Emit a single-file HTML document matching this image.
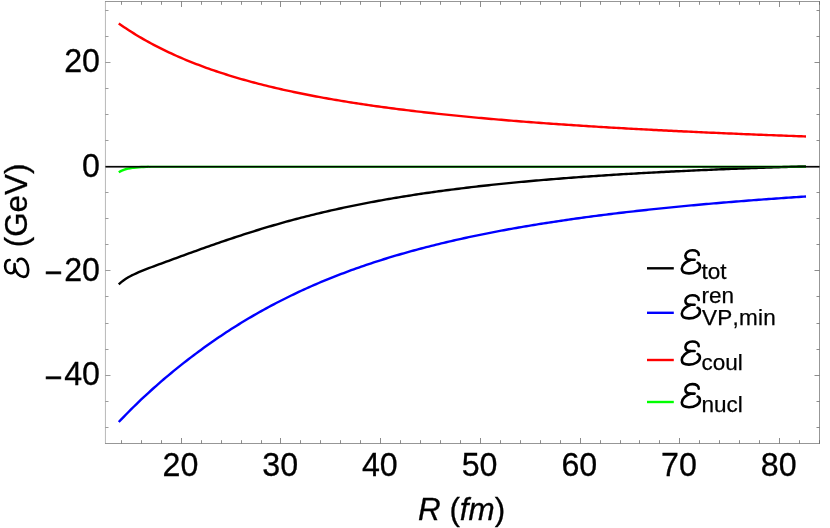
<!DOCTYPE html>
<html><head><meta charset="utf-8"><title>Energy vs R</title>
<style>html,body{margin:0;padding:0;background:#fff;overflow:hidden}svg{display:block;will-change:transform}text{font-family:"Liberation Sans",sans-serif;font-kerning:none}</style>
</head><body>
<svg width="830" height="528" viewBox="0 0 830 528">
<defs><g id="E" fill="none" stroke="#000" stroke-width="2.6" stroke-linecap="round" stroke-linejoin="round"><path d="M22.7 9.3 C22.9 6.5 20.3 4.7 16.4 4.7 C12.4 4.7 9.4 7.2 9.4 10.2 C9.4 12.8 11.4 14.2 14.3 14.2 L18.6 14.2"/><path d="M14.5 14.3 C10.5 15.5 5.8 19 5.8 23.2 C5.8 26.2 8.8 27.8 13 27.8 C19 27.8 23.9 24.5 23.9 20.8 C23.9 18.8 23 17.6 21.6 17.2"/></g></defs>
<rect width="830" height="528" fill="#fff"/>
<path d="M118.75 284.40 L121.25 282.13 L123.75 280.21 L126.25 278.53 L128.75 277.04 L131.25 275.70 L133.75 274.47 L136.25 273.31 L138.75 272.22 L141.25 271.17 L143.75 270.16 L146.25 269.17 L148.75 268.20 L151.25 267.25 L153.75 266.30 L156.25 265.37 L158.75 264.44 L161.25 263.52 L163.75 262.60 L166.25 261.68 L168.75 260.76 L171.25 259.85 L173.75 258.93 L176.25 258.02 L178.75 257.11 L181.25 256.20 L183.75 255.29 L186.25 254.38 L188.75 253.48 L191.25 252.58 L193.75 251.67 L196.25 250.78 L198.75 249.88 L201.25 248.99 L203.75 248.10 L206.25 247.21 L208.75 246.32 L211.25 245.44 L213.75 244.57 L216.25 243.70 L218.75 242.83 L221.25 241.97 L223.75 241.11 L226.25 240.26 L228.75 239.41 L231.25 238.57 L233.75 237.74 L236.25 236.91 L238.75 236.09 L241.25 235.27 L243.75 234.46 L246.25 233.65 L248.75 232.86 L251.25 232.07 L253.75 231.28 L256.25 230.50 L258.75 229.73 L261.25 228.97 L263.75 228.21 L266.25 227.46 L268.75 226.72 L271.25 225.98 L273.75 225.25 L276.25 224.53 L278.75 223.81 L281.25 223.11 L283.75 222.41 L286.25 221.71 L288.75 221.03 L291.25 220.35 L293.75 219.68 L296.25 219.01 L298.75 218.35 L301.25 217.70 L303.75 217.06 L306.25 216.42 L308.75 215.79 L311.25 215.17 L313.75 214.55 L316.25 213.94 L318.75 213.34 L321.25 212.75 L323.75 212.16 L326.25 211.57 L328.75 211.00 L331.25 210.43 L333.75 209.87 L336.25 209.31 L338.75 208.76 L341.25 208.22 L343.75 207.68 L346.25 207.15 L348.75 206.62 L351.25 206.10 L353.75 205.59 L356.25 205.08 L358.75 204.58 L361.25 204.09 L363.75 203.60 L366.25 203.11 L368.75 202.64 L371.25 202.16 L373.75 201.70 L376.25 201.24 L378.75 200.78 L381.25 200.33 L383.75 199.88 L386.25 199.44 L388.75 199.01 L391.25 198.58 L393.75 198.15 L396.25 197.73 L398.75 197.32 L401.25 196.91 L403.75 196.50 L406.25 196.10 L408.75 195.71 L411.25 195.32 L413.75 194.93 L416.25 194.55 L418.75 194.17 L421.25 193.80 L423.75 193.43 L426.25 193.06 L428.75 192.70 L431.25 192.35 L433.75 192.00 L436.25 191.65 L438.75 191.30 L441.25 190.97 L443.75 190.63 L446.25 190.30 L448.75 189.97 L451.25 189.65 L453.75 189.32 L456.25 189.01 L458.75 188.69 L461.25 188.38 L463.75 188.08 L466.25 187.78 L468.75 187.48 L471.25 187.18 L473.75 186.89 L476.25 186.60 L478.75 186.31 L481.25 186.03 L483.75 185.75 L486.25 185.48 L488.75 185.20 L491.25 184.93 L493.75 184.67 L496.25 184.40 L498.75 184.14 L501.25 183.89 L503.75 183.63 L506.25 183.38 L508.75 183.13 L511.25 182.88 L513.75 182.64 L516.25 182.40 L518.75 182.16 L521.25 181.92 L523.75 181.69 L526.25 181.46 L528.75 181.23 L531.25 181.01 L533.75 180.78 L536.25 180.56 L538.75 180.35 L541.25 180.13 L543.75 179.92 L546.25 179.71 L548.75 179.50 L551.25 179.29 L553.75 179.09 L556.25 178.88 L558.75 178.68 L561.25 178.49 L563.75 178.29 L566.25 178.10 L568.75 177.91 L571.25 177.72 L573.75 177.53 L576.25 177.34 L578.75 177.16 L581.25 176.98 L583.75 176.80 L586.25 176.62 L588.75 176.45 L591.25 176.27 L593.75 176.10 L596.25 175.93 L598.75 175.76 L601.25 175.60 L603.75 175.43 L606.25 175.27 L608.75 175.11 L611.25 174.95 L613.75 174.79 L616.25 174.63 L618.75 174.48 L621.25 174.32 L623.75 174.17 L626.25 174.02 L628.75 173.87 L631.25 173.73 L633.75 173.58 L636.25 173.44 L638.75 173.29 L641.25 173.15 L643.75 173.01 L646.25 172.87 L648.75 172.74 L651.25 172.60 L653.75 172.47 L656.25 172.34 L658.75 172.20 L661.25 172.07 L663.75 171.95 L666.25 171.82 L668.75 171.69 L671.25 171.57 L673.75 171.44 L676.25 171.32 L678.75 171.20 L681.25 171.08 L683.75 170.96 L686.25 170.84 L688.75 170.73 L691.25 170.61 L693.75 170.50 L696.25 170.38 L698.75 170.27 L701.25 170.16 L703.75 170.05 L706.25 169.94 L708.75 169.83 L711.25 169.73 L713.75 169.62 L716.25 169.52 L718.75 169.41 L721.25 169.31 L723.75 169.21 L726.25 169.11 L728.75 169.01 L731.25 168.91 L733.75 168.81 L736.25 168.71 L738.75 168.62 L741.25 168.52 L743.75 168.43 L746.25 168.33 L748.75 168.24 L751.25 168.15 L753.75 168.06 L756.25 167.97 L758.75 167.88 L761.25 167.79 L763.75 167.71 L766.25 167.62 L768.75 167.53 L771.25 167.45 L773.75 167.36 L776.25 167.28 L778.75 167.20 L781.25 167.12 L783.75 167.04 L786.25 166.96 L788.75 166.88 L791.25 166.80 L793.75 166.72 L796.25 166.64 L798.75 166.57 L801.25 166.49 L803.75 166.41 L806.00 166.35" fill="none" stroke="#000" stroke-width="2.4" stroke-linejoin="round"/>
<path d="M118.75 422.02 L121.25 419.42 L123.75 416.83 L126.25 414.26 L128.75 411.72 L131.25 409.22 L133.75 406.74 L136.25 404.29 L138.75 401.87 L141.25 399.49 L143.75 397.13 L146.25 394.81 L148.75 392.51 L151.25 390.24 L153.75 387.99 L156.25 385.78 L158.75 383.58 L161.25 381.41 L163.75 379.27 L166.25 377.15 L168.75 375.05 L171.25 372.97 L173.75 370.92 L176.25 368.88 L178.75 366.87 L181.25 364.88 L183.75 362.91 L186.25 360.95 L188.75 359.02 L191.25 357.11 L193.75 355.22 L196.25 353.35 L198.75 351.49 L201.25 349.66 L203.75 347.84 L206.25 346.05 L208.75 344.27 L211.25 342.51 L213.75 340.77 L216.25 339.05 L218.75 337.35 L221.25 335.66 L223.75 334.00 L226.25 332.35 L228.75 330.72 L231.25 329.11 L233.75 327.51 L236.25 325.94 L238.75 324.38 L241.25 322.84 L243.75 321.32 L246.25 319.81 L248.75 318.32 L251.25 316.85 L253.75 315.39 L256.25 313.96 L258.75 312.53 L261.25 311.13 L263.75 309.74 L266.25 308.37 L268.75 307.01 L271.25 305.67 L273.75 304.35 L276.25 303.04 L278.75 301.75 L281.25 300.47 L283.75 299.20 L286.25 297.96 L288.75 296.72 L291.25 295.50 L293.75 294.30 L296.25 293.11 L298.75 291.93 L301.25 290.77 L303.75 289.62 L306.25 288.49 L308.75 287.37 L311.25 286.26 L313.75 285.17 L316.25 284.09 L318.75 283.02 L321.25 281.96 L323.75 280.92 L326.25 279.89 L328.75 278.87 L331.25 277.86 L333.75 276.87 L336.25 275.89 L338.75 274.92 L341.25 273.96 L343.75 273.01 L346.25 272.07 L348.75 271.15 L351.25 270.23 L353.75 269.33 L356.25 268.43 L358.75 267.55 L361.25 266.68 L363.75 265.81 L366.25 264.96 L368.75 264.12 L371.25 263.29 L373.75 262.46 L376.25 261.65 L378.75 260.84 L381.25 260.05 L383.75 259.26 L386.25 258.49 L388.75 257.72 L391.25 256.96 L393.75 256.21 L396.25 255.47 L398.75 254.73 L401.25 254.01 L403.75 253.29 L406.25 252.58 L408.75 251.88 L411.25 251.19 L413.75 250.50 L416.25 249.82 L418.75 249.15 L421.25 248.49 L423.75 247.84 L426.25 247.19 L428.75 246.55 L431.25 245.91 L433.75 245.29 L436.25 244.67 L438.75 244.05 L441.25 243.45 L443.75 242.85 L446.25 242.25 L448.75 241.67 L451.25 241.09 L453.75 240.51 L456.25 239.94 L458.75 239.38 L461.25 238.82 L463.75 238.27 L466.25 237.73 L468.75 237.19 L471.25 236.66 L473.75 236.13 L476.25 235.61 L478.75 235.09 L481.25 234.58 L483.75 234.08 L486.25 233.58 L488.75 233.08 L491.25 232.59 L493.75 232.10 L496.25 231.62 L498.75 231.15 L501.25 230.68 L503.75 230.21 L506.25 229.75 L508.75 229.30 L511.25 228.85 L513.75 228.40 L516.25 227.96 L518.75 227.52 L521.25 227.08 L523.75 226.65 L526.25 226.23 L528.75 225.81 L531.25 225.39 L533.75 224.98 L536.25 224.57 L538.75 224.17 L541.25 223.77 L543.75 223.37 L546.25 222.98 L548.75 222.59 L551.25 222.20 L553.75 221.82 L556.25 221.44 L558.75 221.07 L561.25 220.70 L563.75 220.33 L566.25 219.97 L568.75 219.61 L571.25 219.25 L573.75 218.90 L576.25 218.55 L578.75 218.20 L581.25 217.85 L583.75 217.51 L586.25 217.18 L588.75 216.84 L591.25 216.51 L593.75 216.18 L596.25 215.86 L598.75 215.54 L601.25 215.22 L603.75 214.90 L606.25 214.59 L608.75 214.28 L611.25 213.97 L613.75 213.66 L616.25 213.36 L618.75 213.06 L621.25 212.77 L623.75 212.47 L626.25 212.18 L628.75 211.89 L631.25 211.60 L633.75 211.32 L636.25 211.04 L638.75 210.76 L641.25 210.48 L643.75 210.21 L646.25 209.94 L648.75 209.67 L651.25 209.40 L653.75 209.14 L656.25 208.87 L658.75 208.61 L661.25 208.36 L663.75 208.10 L666.25 207.85 L668.75 207.60 L671.25 207.35 L673.75 207.10 L676.25 206.85 L678.75 206.61 L681.25 206.37 L683.75 206.13 L686.25 205.89 L688.75 205.66 L691.25 205.42 L693.75 205.19 L696.25 204.96 L698.75 204.74 L701.25 204.51 L703.75 204.29 L706.25 204.07 L708.75 203.85 L711.25 203.63 L713.75 203.41 L716.25 203.20 L718.75 202.98 L721.25 202.77 L723.75 202.56 L726.25 202.35 L728.75 202.15 L731.25 201.94 L733.75 201.74 L736.25 201.54 L738.75 201.34 L741.25 201.14 L743.75 200.94 L746.25 200.75 L748.75 200.55 L751.25 200.36 L753.75 200.17 L756.25 199.98 L758.75 199.79 L761.25 199.61 L763.75 199.42 L766.25 199.24 L768.75 199.06 L771.25 198.88 L773.75 198.70 L776.25 198.52 L778.75 198.34 L781.25 198.17 L783.75 197.99 L786.25 197.82 L788.75 197.65 L791.25 197.48 L793.75 197.31 L796.25 197.14 L798.75 196.97 L801.25 196.81 L803.75 196.65 L806.00 196.50" fill="none" stroke="#0000ff" stroke-width="2.4" stroke-linejoin="round"/>
<path d="M118.75 23.49 L121.25 25.24 L123.75 26.94 L126.25 28.60 L128.75 30.23 L131.25 31.83 L133.75 33.39 L136.25 34.93 L138.75 36.43 L141.25 37.90 L143.75 39.34 L146.25 40.75 L148.75 42.13 L151.25 43.49 L153.75 44.82 L156.25 46.13 L158.75 47.41 L161.25 48.67 L163.75 49.90 L166.25 51.11 L168.75 52.30 L171.25 53.46 L173.75 54.61 L176.25 55.73 L178.75 56.83 L181.25 57.92 L183.75 58.98 L186.25 60.03 L188.75 61.05 L191.25 62.06 L193.75 63.05 L196.25 64.03 L198.75 64.99 L201.25 65.93 L203.75 66.85 L206.25 67.76 L208.75 68.65 L211.25 69.53 L213.75 70.40 L216.25 71.25 L218.75 72.08 L221.25 72.91 L223.75 73.72 L226.25 74.51 L228.75 75.30 L231.25 76.07 L233.75 76.82 L236.25 77.57 L238.75 78.31 L241.25 79.03 L243.75 79.74 L246.25 80.44 L248.75 81.14 L251.25 81.82 L253.75 82.49 L256.25 83.15 L258.75 83.80 L261.25 84.44 L263.75 85.07 L266.25 85.69 L268.75 86.30 L271.25 86.91 L273.75 87.50 L276.25 88.09 L278.75 88.67 L281.25 89.24 L283.75 89.80 L286.25 90.36 L288.75 90.91 L291.25 91.44 L293.75 91.98 L296.25 92.50 L298.75 93.02 L301.25 93.53 L303.75 94.03 L306.25 94.53 L308.75 95.02 L311.25 95.51 L313.75 95.99 L316.25 96.46 L318.75 96.92 L321.25 97.38 L323.75 97.84 L326.25 98.29 L328.75 98.73 L331.25 99.17 L333.75 99.60 L336.25 100.02 L338.75 100.44 L341.25 100.86 L343.75 101.27 L346.25 101.68 L348.75 102.08 L351.25 102.47 L353.75 102.86 L356.25 103.25 L358.75 103.63 L361.25 104.01 L363.75 104.38 L366.25 104.75 L368.75 105.12 L371.25 105.48 L373.75 105.83 L376.25 106.19 L378.75 106.54 L381.25 106.88 L383.75 107.22 L386.25 107.56 L388.75 107.89 L391.25 108.22 L393.75 108.55 L396.25 108.87 L398.75 109.19 L401.25 109.50 L403.75 109.81 L406.25 110.12 L408.75 110.43 L411.25 110.73 L413.75 111.03 L416.25 111.32 L418.75 111.62 L421.25 111.91 L423.75 112.19 L426.25 112.48 L428.75 112.76 L431.25 113.03 L433.75 113.31 L436.25 113.58 L438.75 113.85 L441.25 114.12 L443.75 114.38 L446.25 114.64 L448.75 114.90 L451.25 115.16 L453.75 115.41 L456.25 115.66 L458.75 115.91 L461.25 116.16 L463.75 116.40 L466.25 116.65 L468.75 116.89 L471.25 117.12 L473.75 117.36 L476.25 117.59 L478.75 117.82 L481.25 118.05 L483.75 118.28 L486.25 118.50 L488.75 118.72 L491.25 118.94 L493.75 119.16 L496.25 119.38 L498.75 119.59 L501.25 119.81 L503.75 120.02 L506.25 120.23 L508.75 120.43 L511.25 120.64 L513.75 120.84 L516.25 121.04 L518.75 121.24 L521.25 121.44 L523.75 121.64 L526.25 121.83 L528.75 122.02 L531.25 122.22 L533.75 122.40 L536.25 122.59 L538.75 122.78 L541.25 122.96 L543.75 123.15 L546.25 123.33 L548.75 123.51 L551.25 123.69 L553.75 123.87 L556.25 124.04 L558.75 124.22 L561.25 124.39 L563.75 124.56 L566.25 124.73 L568.75 124.90 L571.25 125.07 L573.75 125.23 L576.25 125.40 L578.75 125.56 L581.25 125.72 L583.75 125.89 L586.25 126.05 L588.75 126.20 L591.25 126.36 L593.75 126.52 L596.25 126.67 L598.75 126.83 L601.25 126.98 L603.75 127.13 L606.25 127.28 L608.75 127.43 L611.25 127.58 L613.75 127.72 L616.25 127.87 L618.75 128.01 L621.25 128.16 L623.75 128.30 L626.25 128.44 L628.75 128.58 L631.25 128.72 L633.75 128.86 L636.25 129.00 L638.75 129.13 L641.25 129.27 L643.75 129.40 L646.25 129.54 L648.75 129.67 L651.25 129.80 L653.75 129.93 L656.25 130.06 L658.75 130.19 L661.25 130.32 L663.75 130.44 L666.25 130.57 L668.75 130.70 L671.25 130.82 L673.75 130.94 L676.25 131.07 L678.75 131.19 L681.25 131.31 L683.75 131.43 L686.25 131.55 L688.75 131.67 L691.25 131.78 L693.75 131.90 L696.25 132.02 L698.75 132.13 L701.25 132.25 L703.75 132.36 L706.25 132.47 L708.75 132.59 L711.25 132.70 L713.75 132.81 L716.25 132.92 L718.75 133.03 L721.25 133.14 L723.75 133.25 L726.25 133.35 L728.75 133.46 L731.25 133.57 L733.75 133.67 L736.25 133.78 L738.75 133.88 L741.25 133.98 L743.75 134.09 L746.25 134.19 L748.75 134.29 L751.25 134.39 L753.75 134.49 L756.25 134.59 L758.75 134.69 L761.25 134.79 L763.75 134.88 L766.25 134.98 L768.75 135.08 L771.25 135.17 L773.75 135.27 L776.25 135.36 L778.75 135.46 L781.25 135.55 L783.75 135.64 L786.25 135.74 L788.75 135.83 L791.25 135.92 L793.75 136.01 L796.25 136.10 L798.75 136.19 L801.25 136.28 L803.75 136.37 L806.00 136.45" fill="none" stroke="#ff0000" stroke-width="2.4" stroke-linejoin="round"/>
<path d="M148.75 166.84 L151.25 166.80 L153.75 166.77 L156.25 166.75 L158.75 166.73 L161.25 166.72 L163.75 166.71 L166.25 166.70 L168.75 166.70 L171.25 166.69 L173.75 166.69 L176.25 166.69 L178.75 166.68 L181.25 166.68 L183.75 166.68 L186.25 166.68 L188.75 166.68 L191.25 166.68 L193.75 166.68 L196.25 166.68 L198.75 166.68 L201.25 166.68 L203.75 166.68 L206.25 166.68 L208.75 166.68 L211.25 166.68 L213.75 166.68 L216.25 166.68 L218.75 166.68 L221.25 166.68 L223.75 166.68 L226.25 166.68 L228.75 166.68 L231.25 166.68 L233.75 166.68 L236.25 166.68 L238.75 166.68 L241.25 166.68 L243.75 166.68 L246.25 166.68 L248.75 166.68 L251.25 166.68 L253.75 166.68 L256.25 166.68 L258.75 166.68 L261.25 166.68 L263.75 166.68 L266.25 166.68 L268.75 166.68 L271.25 166.68 L273.75 166.68 L276.25 166.68 L278.75 166.68 L281.25 166.68 L283.75 166.68 L286.25 166.68 L288.75 166.68 L291.25 166.68 L293.75 166.68 L296.25 166.68 L298.75 166.68 L301.25 166.68 L303.75 166.68 L306.25 166.68 L308.75 166.68 L311.25 166.68 L313.75 166.68 L316.25 166.68 L318.75 166.68 L321.25 166.68 L323.75 166.68 L326.25 166.68 L328.75 166.68 L331.25 166.68 L333.75 166.68 L336.25 166.68 L338.75 166.68 L341.25 166.68 L343.75 166.68 L346.25 166.68 L348.75 166.68 L351.25 166.68 L353.75 166.68 L356.25 166.68 L358.75 166.68 L361.25 166.68 L363.75 166.68 L366.25 166.68 L368.75 166.68 L371.25 166.68 L373.75 166.68 L376.25 166.68 L378.75 166.68 L381.25 166.68 L383.75 166.68 L386.25 166.68 L388.75 166.68 L391.25 166.68 L393.75 166.68 L396.25 166.68 L398.75 166.68 L401.25 166.68 L403.75 166.68 L406.25 166.68 L408.75 166.68 L411.25 166.68 L413.75 166.68 L416.25 166.68 L418.75 166.68 L421.25 166.68 L423.75 166.68 L426.25 166.68 L428.75 166.68 L431.25 166.68 L433.75 166.68 L436.25 166.68 L438.75 166.68 L441.25 166.68 L443.75 166.68 L446.25 166.68 L448.75 166.68 L451.25 166.68 L453.75 166.68 L456.25 166.68 L458.75 166.68 L461.25 166.68 L463.75 166.68 L466.25 166.68 L468.75 166.68 L471.25 166.68 L473.75 166.68 L476.25 166.68 L478.75 166.68 L481.25 166.68 L483.75 166.68 L486.25 166.68 L488.75 166.68 L491.25 166.68 L493.75 166.68 L496.25 166.68 L498.75 166.68 L501.25 166.68 L503.75 166.68 L506.25 166.68 L508.75 166.68 L511.25 166.68 L513.75 166.68 L516.25 166.68 L518.75 166.68 L521.25 166.68 L523.75 166.68 L526.25 166.68 L528.75 166.68 L531.25 166.68 L533.75 166.68 L536.25 166.68 L538.75 166.68 L541.25 166.68 L543.75 166.68 L546.25 166.68 L548.75 166.68 L551.25 166.68 L553.75 166.68 L556.25 166.68 L558.75 166.68 L561.25 166.68 L563.75 166.68 L566.25 166.68 L568.75 166.68 L571.25 166.68 L573.75 166.68 L576.25 166.68 L578.75 166.68 L581.25 166.68 L583.75 166.68 L586.25 166.68 L588.75 166.68 L591.25 166.68 L593.75 166.68 L596.25 166.68 L598.75 166.68 L601.25 166.68 L603.75 166.68 L606.25 166.68 L608.75 166.68 L611.25 166.68 L613.75 166.68 L616.25 166.68 L618.75 166.68 L621.25 166.68 L623.75 166.68 L626.25 166.68 L628.75 166.68 L631.25 166.68 L633.75 166.68 L636.25 166.68 L638.75 166.68 L641.25 166.68 L643.75 166.68 L646.25 166.68 L648.75 166.68 L651.25 166.68 L653.75 166.68 L656.25 166.68 L658.75 166.68 L661.25 166.68 L663.75 166.68 L666.25 166.68 L668.75 166.68 L671.25 166.68 L673.75 166.68 L676.25 166.68 L678.75 166.68 L681.25 166.68 L683.75 166.68 L686.25 166.68 L688.75 166.68 L691.25 166.68 L693.75 166.68 L696.25 166.68 L698.75 166.68 L701.25 166.68 L703.75 166.68 L706.25 166.68 L708.75 166.68 L711.25 166.68 L713.75 166.68 L716.25 166.68 L718.75 166.68 L721.25 166.68 L723.75 166.68 L726.25 166.68 L728.75 166.68 L731.25 166.68 L733.75 166.68 L736.25 166.68 L738.75 166.68 L741.25 166.68 L743.75 166.68 L746.25 166.68 L748.75 166.68 L751.25 166.68 L753.75 166.68 L756.25 166.68 L758.75 166.68 L761.25 166.68 L763.75 166.68 L766.25 166.68 L768.75 166.68 L771.25 166.68 L773.75 166.68 L776.25 166.68 L778.75 166.68 L781.25 166.68 L783.75 166.68 L786.25 166.68 L788.75 166.68 L791.25 166.68 L793.75 166.68 L796.25 166.68 L798.75 166.68 L801.25 166.68 L803.75 166.68 L806.00 166.68" fill="none" stroke="#00ff00" stroke-width="2.1" stroke-linejoin="round"/>
<path d="M118.75 172.26 L121.25 170.85 L123.75 169.80 L126.25 169.02 L128.75 168.43 L131.25 167.99 L133.75 167.66 L136.25 167.42 L138.75 167.23 L141.25 167.09 L143.75 166.98 L146.25 166.90 L148.75 166.84" fill="none" stroke="#00ff00" stroke-width="2.45" stroke-linejoin="round"/>
<g stroke="#666" stroke-width="0.68" fill="none">
<line x1="105.45" y1="1.1400000000000001" x2="105.45" y2="443.86" stroke-width="0.46"/>
<line x1="819.5" y1="1.1400000000000001" x2="819.5" y2="443.86"/>
<line x1="105.2" y1="1.5" x2="819.86" y2="1.5"/>
<line x1="105.2" y1="443.5" x2="819.86" y2="443.5"/>
<line x1="121.50" y1="443.5" x2="121.50" y2="440.2" stroke-width="0.75"/>
<line x1="121.50" y1="1.5" x2="121.50" y2="4.8" stroke-width="0.75"/>
<line x1="141.50" y1="443.5" x2="141.50" y2="440.2" stroke-width="0.75"/>
<line x1="141.50" y1="1.5" x2="141.50" y2="4.8" stroke-width="0.75"/>
<line x1="161.50" y1="443.5" x2="161.50" y2="440.2" stroke-width="0.75"/>
<line x1="161.50" y1="1.5" x2="161.50" y2="4.8" stroke-width="0.75"/>
<line x1="181.50" y1="443.5" x2="181.50" y2="438.0" stroke-width="0.75"/>
<line x1="181.50" y1="1.5" x2="181.50" y2="7.0" stroke-width="0.75"/>
<line x1="201.50" y1="443.5" x2="201.50" y2="440.2" stroke-width="0.75"/>
<line x1="201.50" y1="1.5" x2="201.50" y2="4.8" stroke-width="0.75"/>
<line x1="221.50" y1="443.5" x2="221.50" y2="440.2" stroke-width="0.75"/>
<line x1="221.50" y1="1.5" x2="221.50" y2="4.8" stroke-width="0.75"/>
<line x1="241.50" y1="443.5" x2="241.50" y2="440.2" stroke-width="0.75"/>
<line x1="241.50" y1="1.5" x2="241.50" y2="4.8" stroke-width="0.75"/>
<line x1="261.50" y1="443.5" x2="261.50" y2="440.2" stroke-width="0.75"/>
<line x1="261.50" y1="1.5" x2="261.50" y2="4.8" stroke-width="0.75"/>
<line x1="280.50" y1="443.5" x2="280.50" y2="438.0" stroke-width="0.75"/>
<line x1="280.50" y1="1.5" x2="280.50" y2="7.0" stroke-width="0.75"/>
<line x1="300.50" y1="443.5" x2="300.50" y2="440.2" stroke-width="0.75"/>
<line x1="300.50" y1="1.5" x2="300.50" y2="4.8" stroke-width="0.75"/>
<line x1="320.50" y1="443.5" x2="320.50" y2="440.2" stroke-width="0.75"/>
<line x1="320.50" y1="1.5" x2="320.50" y2="4.8" stroke-width="0.75"/>
<line x1="340.50" y1="443.5" x2="340.50" y2="440.2" stroke-width="0.75"/>
<line x1="340.50" y1="1.5" x2="340.50" y2="4.8" stroke-width="0.75"/>
<line x1="360.50" y1="443.5" x2="360.50" y2="440.2" stroke-width="0.75"/>
<line x1="360.50" y1="1.5" x2="360.50" y2="4.8" stroke-width="0.75"/>
<line x1="380.50" y1="443.5" x2="380.50" y2="438.0" stroke-width="0.75"/>
<line x1="380.50" y1="1.5" x2="380.50" y2="7.0" stroke-width="0.75"/>
<line x1="400.50" y1="443.5" x2="400.50" y2="440.2" stroke-width="0.75"/>
<line x1="400.50" y1="1.5" x2="400.50" y2="4.8" stroke-width="0.75"/>
<line x1="420.50" y1="443.5" x2="420.50" y2="440.2" stroke-width="0.75"/>
<line x1="420.50" y1="1.5" x2="420.50" y2="4.8" stroke-width="0.75"/>
<line x1="440.50" y1="443.5" x2="440.50" y2="440.2" stroke-width="0.75"/>
<line x1="440.50" y1="1.5" x2="440.50" y2="4.8" stroke-width="0.75"/>
<line x1="460.50" y1="443.5" x2="460.50" y2="440.2" stroke-width="0.75"/>
<line x1="460.50" y1="1.5" x2="460.50" y2="4.8" stroke-width="0.75"/>
<line x1="480.50" y1="443.5" x2="480.50" y2="438.0" stroke-width="0.75"/>
<line x1="480.50" y1="1.5" x2="480.50" y2="7.0" stroke-width="0.75"/>
<line x1="500.50" y1="443.5" x2="500.50" y2="440.2" stroke-width="0.75"/>
<line x1="500.50" y1="1.5" x2="500.50" y2="4.8" stroke-width="0.75"/>
<line x1="520.50" y1="443.5" x2="520.50" y2="440.2" stroke-width="0.75"/>
<line x1="520.50" y1="1.5" x2="520.50" y2="4.8" stroke-width="0.75"/>
<line x1="540.50" y1="443.5" x2="540.50" y2="440.2" stroke-width="0.75"/>
<line x1="540.50" y1="1.5" x2="540.50" y2="4.8" stroke-width="0.75"/>
<line x1="560.50" y1="443.5" x2="560.50" y2="440.2" stroke-width="0.75"/>
<line x1="560.50" y1="1.5" x2="560.50" y2="4.8" stroke-width="0.75"/>
<line x1="580.50" y1="443.5" x2="580.50" y2="438.0" stroke-width="0.75"/>
<line x1="580.50" y1="1.5" x2="580.50" y2="7.0" stroke-width="0.75"/>
<line x1="600.50" y1="443.5" x2="600.50" y2="440.2" stroke-width="0.75"/>
<line x1="600.50" y1="1.5" x2="600.50" y2="4.8" stroke-width="0.75"/>
<line x1="620.50" y1="443.5" x2="620.50" y2="440.2" stroke-width="0.75"/>
<line x1="620.50" y1="1.5" x2="620.50" y2="4.8" stroke-width="0.75"/>
<line x1="639.50" y1="443.5" x2="639.50" y2="440.2" stroke-width="0.75"/>
<line x1="639.50" y1="1.5" x2="639.50" y2="4.8" stroke-width="0.75"/>
<line x1="659.50" y1="443.5" x2="659.50" y2="440.2" stroke-width="0.75"/>
<line x1="659.50" y1="1.5" x2="659.50" y2="4.8" stroke-width="0.75"/>
<line x1="679.50" y1="443.5" x2="679.50" y2="438.0" stroke-width="0.75"/>
<line x1="679.50" y1="1.5" x2="679.50" y2="7.0" stroke-width="0.75"/>
<line x1="699.50" y1="443.5" x2="699.50" y2="440.2" stroke-width="0.75"/>
<line x1="699.50" y1="1.5" x2="699.50" y2="4.8" stroke-width="0.75"/>
<line x1="719.50" y1="443.5" x2="719.50" y2="440.2" stroke-width="0.75"/>
<line x1="719.50" y1="1.5" x2="719.50" y2="4.8" stroke-width="0.75"/>
<line x1="739.50" y1="443.5" x2="739.50" y2="440.2" stroke-width="0.75"/>
<line x1="739.50" y1="1.5" x2="739.50" y2="4.8" stroke-width="0.75"/>
<line x1="759.50" y1="443.5" x2="759.50" y2="440.2" stroke-width="0.75"/>
<line x1="759.50" y1="1.5" x2="759.50" y2="4.8" stroke-width="0.75"/>
<line x1="779.50" y1="443.5" x2="779.50" y2="438.0" stroke-width="0.75"/>
<line x1="779.50" y1="1.5" x2="779.50" y2="7.0" stroke-width="0.75"/>
<line x1="799.50" y1="443.5" x2="799.50" y2="440.2" stroke-width="0.75"/>
<line x1="799.50" y1="1.5" x2="799.50" y2="4.8" stroke-width="0.75"/>
<line x1="819.50" y1="443.5" x2="819.50" y2="440.2" stroke-width="0.75"/>
<line x1="819.50" y1="1.5" x2="819.50" y2="4.8" stroke-width="0.75"/>
<line x1="105.5" y1="427.50" x2="108.5" y2="427.50" stroke-width="0.65"/>
<line x1="819.5" y1="427.50" x2="816.5" y2="427.50" stroke-width="0.75"/>
<line x1="105.5" y1="401.50" x2="108.5" y2="401.50" stroke-width="0.65"/>
<line x1="819.5" y1="401.50" x2="816.5" y2="401.50" stroke-width="0.75"/>
<line x1="105.5" y1="375.50" x2="110.5" y2="375.50" stroke-width="0.65"/>
<line x1="819.5" y1="375.50" x2="814.5" y2="375.50" stroke-width="0.75"/>
<line x1="105.5" y1="349.50" x2="108.5" y2="349.50" stroke-width="0.65"/>
<line x1="819.5" y1="349.50" x2="816.5" y2="349.50" stroke-width="0.75"/>
<line x1="105.5" y1="323.50" x2="108.5" y2="323.50" stroke-width="0.65"/>
<line x1="819.5" y1="323.50" x2="816.5" y2="323.50" stroke-width="0.75"/>
<line x1="105.5" y1="296.50" x2="108.5" y2="296.50" stroke-width="0.65"/>
<line x1="819.5" y1="296.50" x2="816.5" y2="296.50" stroke-width="0.75"/>
<line x1="105.5" y1="270.50" x2="110.5" y2="270.50" stroke-width="0.65"/>
<line x1="819.5" y1="270.50" x2="814.5" y2="270.50" stroke-width="0.75"/>
<line x1="105.5" y1="244.50" x2="108.5" y2="244.50" stroke-width="0.65"/>
<line x1="819.5" y1="244.50" x2="816.5" y2="244.50" stroke-width="0.75"/>
<line x1="105.5" y1="218.50" x2="108.5" y2="218.50" stroke-width="0.65"/>
<line x1="819.5" y1="218.50" x2="816.5" y2="218.50" stroke-width="0.75"/>
<line x1="105.5" y1="192.50" x2="108.5" y2="192.50" stroke-width="0.65"/>
<line x1="819.5" y1="192.50" x2="816.5" y2="192.50" stroke-width="0.75"/>
<line x1="105.5" y1="166.50" x2="110.5" y2="166.50" stroke-width="0.65"/>
<line x1="819.5" y1="166.50" x2="814.5" y2="166.50" stroke-width="0.75"/>
<line x1="105.5" y1="140.50" x2="108.5" y2="140.50" stroke-width="0.65"/>
<line x1="819.5" y1="140.50" x2="816.5" y2="140.50" stroke-width="0.75"/>
<line x1="105.5" y1="114.50" x2="108.5" y2="114.50" stroke-width="0.65"/>
<line x1="819.5" y1="114.50" x2="816.5" y2="114.50" stroke-width="0.75"/>
<line x1="105.5" y1="88.50" x2="108.5" y2="88.50" stroke-width="0.65"/>
<line x1="819.5" y1="88.50" x2="816.5" y2="88.50" stroke-width="0.75"/>
<line x1="105.5" y1="62.50" x2="110.5" y2="62.50" stroke-width="0.65"/>
<line x1="819.5" y1="62.50" x2="814.5" y2="62.50" stroke-width="0.75"/>
<line x1="105.5" y1="36.50" x2="108.5" y2="36.50" stroke-width="0.65"/>
<line x1="819.5" y1="36.50" x2="816.5" y2="36.50" stroke-width="0.75"/>
<line x1="105.5" y1="10.50" x2="108.5" y2="10.50" stroke-width="0.65"/>
<line x1="819.5" y1="10.50" x2="816.5" y2="10.50" stroke-width="0.75"/>
</g>
<g stroke="#000" stroke-width="1"><line x1="105.5" y1="165.5" x2="819.5" y2="165.5" stroke-opacity="0.12"/><line x1="105.5" y1="166.5" x2="819.5" y2="166.5" stroke-opacity="0.97"/><line x1="105.5" y1="167.5" x2="819.5" y2="167.5" stroke-opacity="0.58"/></g>
<g font-family="Liberation Sans, sans-serif" font-size="32.2" fill="#000" stroke="#000" stroke-width="0.3">
<text transform="translate(180.43,475.8) scale(1,1.015)" text-anchor="middle">20</text>
<text transform="translate(280.15,475.8) scale(1,1.015)" text-anchor="middle">30</text>
<text transform="translate(379.87,475.8) scale(1,1.015)" text-anchor="middle">40</text>
<text transform="translate(479.59,475.8) scale(1,1.015)" text-anchor="middle">50</text>
<text transform="translate(579.31,475.8) scale(1,1.015)" text-anchor="middle">60</text>
<text transform="translate(679.03,475.8) scale(1,1.015)" text-anchor="middle">70</text>
<text transform="translate(778.75,475.8) scale(1,1.015)" text-anchor="middle">80</text>
<text transform="translate(100,72.20) scale(1,1.015)" text-anchor="end">20</text>
<text transform="translate(100,176.50) scale(1,1.015)" text-anchor="end">0</text>
<text transform="translate(100,280.80) scale(1,1.015)" text-anchor="end">20</text>
<text x="62.7" y="283.40" text-anchor="end" font-size="30.6" stroke-width="0.55">−</text>
<text transform="translate(100,385.10) scale(1,1.015)" text-anchor="end">40</text>
<text x="62.7" y="387.70" text-anchor="end" font-size="30.6" stroke-width="0.55">−</text>
<text x="461.6" y="519.5" font-size="31.4" text-anchor="middle"><tspan font-style="italic">R</tspan> (<tspan font-style="italic">fm</tspan>)</text>
<use href="#E" transform="translate(0.4,282.7) rotate(-90)"/><text transform="translate(27.1,247.3) rotate(-90)" x="0" y="0" font-size="31.4">(GeV)</text>
</g>
<g font-family="Liberation Sans, sans-serif" font-size="22.5" fill="#000" stroke="#000" stroke-width="0.25">
<line x1="647" y1="268.3" x2="673.8" y2="268.3" stroke="#000" stroke-width="2.4"/>
<use href="#E" transform="translate(676,245.60)"/>
<text x="701.6" y="278.50">tot</text>
<line x1="647" y1="312.8" x2="673.8" y2="312.8" stroke="#0000ff" stroke-width="2.4"/>
<use href="#E" transform="translate(676,290.60)"/>
<text x="701.6" y="302.90">ren</text>
<text x="701.9" y="325.10" letter-spacing="0.25">VP,min</text>
<line x1="647" y1="360.0" x2="673.8" y2="360.0" stroke="#ff0000" stroke-width="2.4"/>
<use href="#E" transform="translate(676,336.80)"/>
<text x="701.6" y="369.70">coul</text>
<line x1="647" y1="402.0" x2="673.8" y2="402.0" stroke="#00ff00" stroke-width="2.4"/>
<use href="#E" transform="translate(676,379.40)"/>
<text x="701.6" y="412.30">nucl</text>
</g>
</svg>
</body></html>
